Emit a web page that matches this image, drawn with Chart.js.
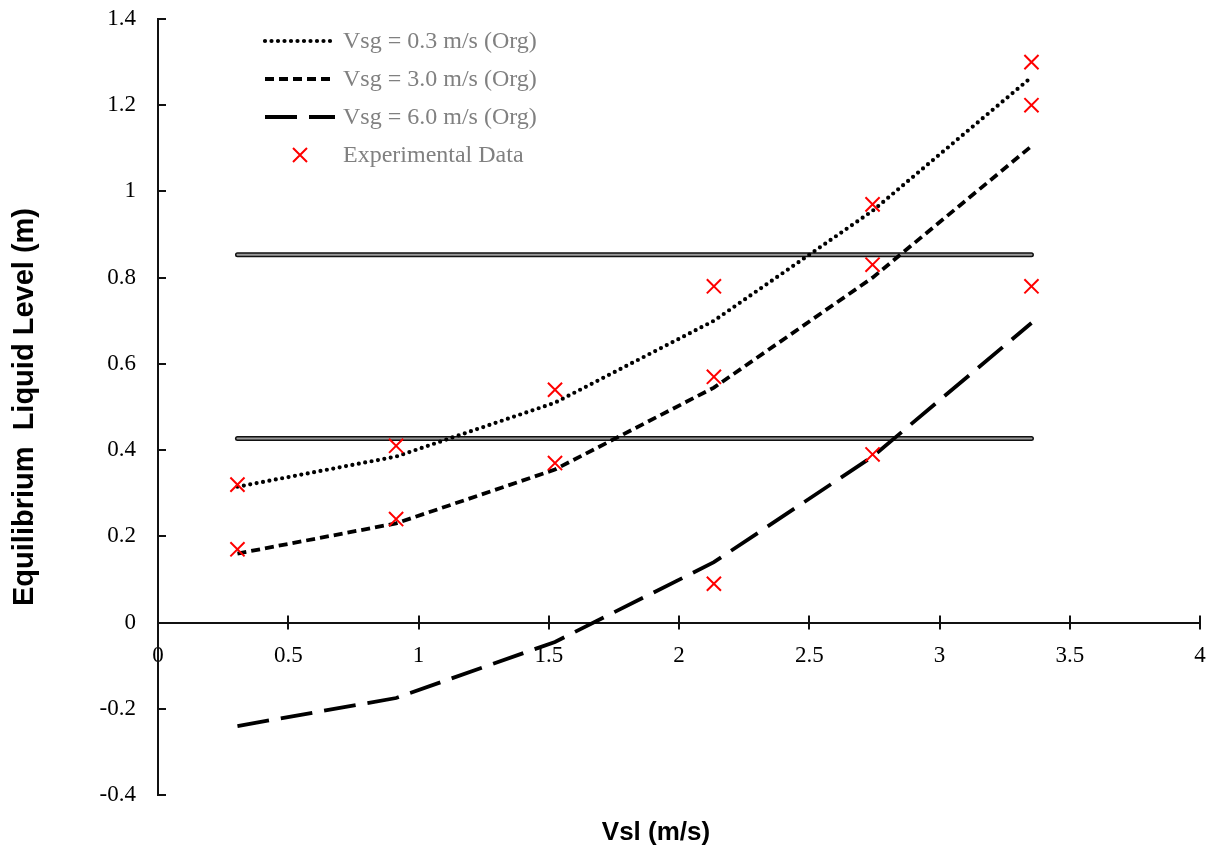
<!DOCTYPE html>
<html>
<head>
<meta charset="utf-8">
<title>Equilibrium Liquid Level</title>
<script src="https://cdn.jsdelivr.net/npm/chart.js@4.4.0/dist/chart.umd.min.js"></script>
<style>
    html, body { margin: 0; padding: 0; background: #ffffff; }
    #grafico { width: 1213px; height: 848px; }
</style>
</head>
<body>
<div id="grafico"><canvas id="myChart" width="1213" height="848"></canvas></div>
<script>
// superficial liquid velocity (m/s) of every run
var vsl = [0.305, 0.914, 1.524, 2.134, 2.743, 3.353];

// model curves (Org)
var nivelVsg03 = [0.315, 0.385, 0.510, 0.700, 0.955, 1.265];
var nivelVsg30 = [0.160, 0.230, 0.355, 0.545, 0.800, 1.105];
var nivelVsg60 = [-0.240, -0.175, -0.045, 0.140, 0.385, 0.695];

// experimental points
var expVsl   = [0.305, 0.305, 0.914, 0.914, 1.524, 1.524, 2.134, 2.134, 2.134, 2.743, 2.743, 2.743, 3.353, 3.353, 3.353];
var expNivel = [0.32,  0.17,  0.41,  0.24,  0.54,  0.37,  0.78,  0.57,  0.09,  0.97,  0.83,  0.39,  1.30,  1.20,  0.78];

// horizontal reference levels (m)
var nivelReferencia = [0.853, 0.427];

var legendaTextos = ['Vsg = 0.3 m/s (Org)', 'Vsg = 3.0 m/s (Org)', 'Vsg = 6.0 m/s (Org)', 'Experimental Data'];

var fonteSerif = "'Liberation Serif', 'Times New Roman', serif";
var fonteSans = "'Liberation Sans', Arial, sans-serif";

document.addEventListener('DOMContentLoaded', function ()
{
    carregarGrafico();
});

function pares(xs, ys)
{
    return xs.map(function (x, i) { return { x: x, y: ys[i] }; });
}

// 1.0 -> "1", -0.0 -> "0"
function formatarTick(valor)
{
    return String(Math.round(valor * 10) / 10 + 0);
}

function montarDatasets()
{
    var datasets = [];

    datasets.push({
        label: legendaTextos[3],
        data: pares(expVsl, expNivel),
        showLine: false,
        pointStyle: 'crossRot',
        pointRadius: 10,
        pointHoverRadius: 10,
        pointBorderWidth: 2,
        borderColor: '#ff0000',
        backgroundColor: '#ff0000'
    });

    var curvas = [
        { label: legendaTextos[0], valores: nivelVsg03, dash: [0, 6.5], largura: 4.2, cap: 'round' },
        { label: legendaTextos[1], valores: nivelVsg30, dash: [9, 5], largura: 3.8, cap: 'butt' },
        { label: legendaTextos[2], valores: nivelVsg60, dash: [32, 12], largura: 3.8, cap: 'butt' }
    ];

    curvas.forEach(function (c)
    {
        datasets.push({
            label: c.label,
            data: pares(vsl, c.valores),
            showLine: true,
            borderColor: '#000000',
            borderWidth: c.largura,
            borderDash: c.dash,
            borderCapStyle: c.cap,
            tension: 0,
            pointRadius: 0,
            pointHoverRadius: 0
        });
    });

    // double lines: black outline with grey core
    nivelReferencia.forEach(function (nivel)
    {
        var ponta = [{ x: vsl[0], y: nivel }, { x: vsl[vsl.length - 1], y: nivel }];
        datasets.push({ label: '', data: ponta, showLine: true, borderColor: '#9a9a9a', borderWidth: 2, borderCapStyle: 'round', pointRadius: 0, pointHoverRadius: 0, order: 1 });
        datasets.push({ label: '', data: ponta, showLine: true, borderColor: '#111111', borderWidth: 5, borderCapStyle: 'round', pointRadius: 0, pointHoverRadius: 0, order: 2 });
    });

    return datasets;
}

var pluginExtras =
{
    id: 'extras',
    afterDraw: function (chart)
    {
        var ctx = chart.ctx;
        var sx = chart.scales.x, sy = chart.scales.y;
        var area = chart.chartArea;
        var y0 = sy.getPixelForValue(0);

        ctx.save();
        ctx.strokeStyle = '#111111';
        ctx.lineWidth = 2;
        ctx.setLineDash([]);

        // y ticks point inward, x ticks cross the axis
        sy.ticks.forEach(function (t)
        {
            var py = Math.round(sy.getPixelForValue(t.value));
            ctx.beginPath();
            ctx.moveTo(area.left, py);
            ctx.lineTo(area.left + 8, py);
            ctx.stroke();
        });
        sx.ticks.forEach(function (t)
        {
            var px = Math.round(sx.getPixelForValue(t.value));
            ctx.beginPath();
            ctx.moveTo(px, y0 - 7);
            ctx.lineTo(px, y0 + 7);
            ctx.stroke();
        });

        // legend inside the plot
        var linhaX0 = 265, linhaX1 = 335, textoX = 343, topo = 41, passo = 38;
        var ordem = [1, 2, 3, 0];
        ctx.font = '24px ' + fonteSerif;
        ctx.textBaseline = 'middle';
        ctx.textAlign = 'left';
        ordem.forEach(function (idx, i)
        {
            var ds = chart.data.datasets[idx];
            var cy = topo + i * passo;
            if (ds.showLine)
            {
                ctx.strokeStyle = ds.borderColor;
                ctx.lineWidth = ds.borderWidth;
                ctx.lineCap = ds.borderCapStyle;
                ctx.setLineDash(ds.borderDash);
                ctx.beginPath();
                ctx.moveTo(linhaX0, cy);
                ctx.lineTo(linhaX1, cy);
                ctx.stroke();
            }
            else
            {
                var cx = (linhaX0 + linhaX1) / 2, r = 7;
                ctx.strokeStyle = ds.borderColor;
                ctx.lineWidth = ds.pointBorderWidth;
                ctx.lineCap = 'butt';
                ctx.setLineDash([]);
                ctx.beginPath();
                ctx.moveTo(cx - r, cy - r); ctx.lineTo(cx + r, cy + r);
                ctx.moveTo(cx - r, cy + r); ctx.lineTo(cx + r, cy - r);
                ctx.stroke();
            }
            ctx.fillStyle = '#808080';
            ctx.fillText(ds.label, textoX, cy + 1);
        });

        // x axis title at the bottom
        ctx.font = 'bold 26px ' + fonteSans;
        ctx.fillStyle = '#000000';
        ctx.textAlign = 'center';
        ctx.fillText('Vsl (m/s)', 656, 833);
        ctx.restore();
    }
};

function carregarGrafico()
{
    // tick gaps come from an invisible tickLength so the label padding stays small
    var chartOptions =
    {
        responsive: false,
        animation: false,
        layout: { padding: { left: 8, top: 19, right: 13, bottom: 53 } },
        plugins:
        {
            legend: { display: false },
            tooltip: { enabled: false },
            title: { display: false }
        },
        scales:
        {
            x:
            {
                type: 'linear',
                position: { y: 0 },
                min: 0,
                max: 4,
                ticks: { stepSize: 0.5, padding: 2, color: '#000000', font: { family: fonteSerif, size: 23 }, maxRotation: 0, callback: formatarTick },
                grid: { display: false, drawTicks: true, tickLength: 18 },
                border: { display: true, color: '#111111', width: 2 },
                afterFit: function (scale) { scale.height = 30; }
            },
            y:
            {
                type: 'linear',
                min: -0.4,
                max: 1.4,
                ticks: { stepSize: 0.2, padding: 4, color: '#000000', font: { family: fonteSerif, size: 23 }, callback: formatarTick },
                grid: { display: false, drawTicks: true, tickLength: 18 },
                border: { display: true, color: '#111111', width: 2 },
                title:
                {
                    display: true,
                    text: 'Equilibrium  Liquid Level (m)',
                    color: '#000000',
                    font: { family: fonteSans, size: 29, weight: 'bold' },
                    padding: 0
                },
                afterFit: function (scale) { scale.width = 150; }
            }
        }
    };

    new Chart(document.getElementById('myChart').getContext('2d'),
    {
        type: 'scatter',
        data: { datasets: montarDatasets() },
        options: chartOptions,
        plugins: [pluginExtras]
    });
}
</script>
</body>
</html>
